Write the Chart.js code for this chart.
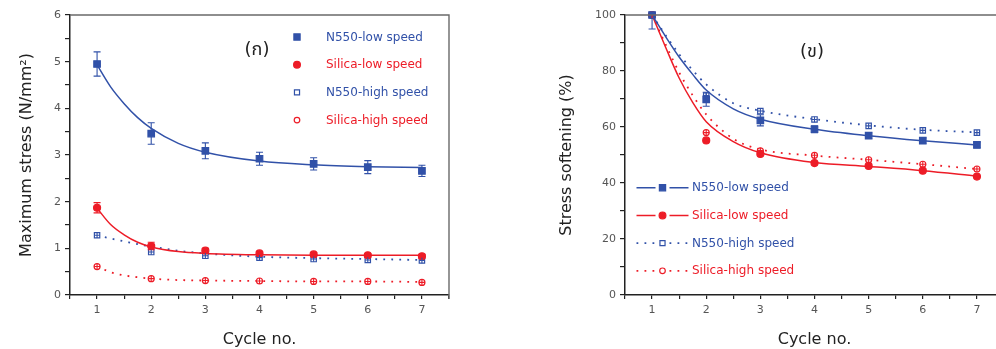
<!DOCTYPE html>
<html>
<head>
<meta charset="utf-8">
<script src="https://cdn.jsdelivr.net/npm/chart.js@4.4.1/dist/chart.umd.min.js"></script>
<style>
  html, body { margin: 0; padding: 0; background: #fff; overflow: hidden; width: 996px; height: 349px; }
  #wrapA { position: absolute; left: 0; top: 0; width: 500px; height: 349px; }
  #wrapB { position: absolute; left: 500px; top: 0; width: 520px; height: 349px; }
</style>
</head>
<body>
<div id="wrapA"><canvas id="stress"></canvas></div>
<div id="wrapB"><canvas id="soft"></canvas></div>
<script>
// ---- shared x values ----
const cycles = [1, 2, 3, 4, 5, 6, 7];
const cycleTicks = [1, 2, 3, 4, 5, 6, 7];
const fitCycles = [1, 1.25, 1.5, 1.75, 2, 2.5, 3, 4, 5, 6, 7];

// ---- panel (ก): maximum stress, N/mm² ----
const stressTicks = [0, 1, 2, 3, 4, 5, 6];
const stressN550Low = [4.95, 3.46, 3.09, 2.92, 2.81, 2.74, 2.66];
const stressN550LowErr = [0.26, 0.23, 0.17, 0.14, 0.13, 0.14, 0.12];
const stressSilicaLow = [1.87, 1.05, 0.95, 0.89, 0.87, 0.85, 0.83];
const stressSilicaLowErr = [0.11, 0.08, 0.05, 0.04, 0.04, 0.04, 0.04];
const stressN550High = [1.28, 0.92, 0.84, 0.80, 0.77, 0.75, 0.74];
const stressSilicaHigh = [0.61, 0.35, 0.31, 0.30, 0.29, 0.29, 0.27];
// fitted decay curves
const stressFitN550Low = [4.93, 4.46, 4.10, 3.80, 3.57, 3.25, 3.06, 2.87, 2.79, 2.75, 2.73];
const stressFitSilicaLow = [1.86, 1.51, 1.29, 1.13, 1.03, 0.93, 0.89, 0.86, 0.85, 0.85, 0.85];
const stressFitN550High = [1.28, 1.21, 1.15, 1.09, 1.04, 0.95, 0.89, 0.82, 0.79, 0.77, 0.75];
const stressFitSilicaHigh = [0.61, 0.49, 0.42, 0.38, 0.35, 0.32, 0.31, 0.30, 0.29, 0.29, 0.28];

// ---- panel (ข): stress softening, % ----
const softTicks = [0, 20, 40, 60, 80, 100];
const softN550Low = [100, 69.9, 62.4, 59.2, 56.9, 55.1, 53.6];
const softN550LowErr = [5, 2.5, 2, 1.2, 1, 1, 1];
const softSilicaLow = [100, 55.2, 50.4, 47.1, 46.1, 44.4, 42.3];
const softN550High = [100, 71.2, 65.7, 62.7, 60.4, 58.8, 58.0];
const softSilicaHigh = [100, 58.0, 51.5, 49.9, 48.3, 46.7, 45.0];
// fitted decay curves
const softFitN550Low = [100, 92.3, 85.0, 78.8, 73.2, 66.5, 62.8, 59.2, 56.9, 55.1, 53.6];
const softFitSilicaLow = [100, 88.5, 77.5, 68.8, 61.9, 54.8, 50.8, 47.3, 45.9, 44.4, 42.5];
const softFitN550High = [100, 92.8, 86.0, 80.3, 75.2, 68.5, 65.8, 62.8, 60.6, 59.0, 58.1];
const softFitSilicaHigh = [100, 89.5, 79.5, 71.3, 64.5, 55.8, 52.0, 49.8, 48.3, 46.7, 45.0];

const seriesNames = ['N550-low speed', 'Silica-low speed', 'N550-high speed', 'Silica-high speed'];

const FONT = "'DejaVu Sans', 'Noto Sans', sans-serif";
const BLUE = '#3151a8';
const RED = '#ed1c27';
const AXIS = '#222';
const DOTS = [1.8, 6.2];

Chart.defaults.font.family = FONT;

const pts = (xs, ys) => xs.map((x, i) => ({ x, y: ys[i] }));

// marker styles for the four series: filled square, filled circle, open square, open circle
const markStyles = [
  { style: 'rect', filled: true, color: BLUE, r: 4.6, dash: [] },
  { style: 'circle', filled: true, color: RED, r: 3.5, dash: [] },
  { style: 'rect', filled: false, color: BLUE, r: 3.8, dash: DOTS },
  { style: 'circle', filled: false, color: RED, r: 3.0, dash: DOTS }
];

function pointSet(k, ys, errs) {
  const m = markStyles[k];
  return {
    label: seriesNames[k],
    data: pts(cycles, ys),
    showLine: false,
    pointStyle: m.style,
    pointRadius: m.r,
    pointBorderWidth: 1.2,
    pointBackgroundColor: m.filled ? m.color : '#fff',
    pointBorderColor: m.color,
    borderColor: m.color,
    errors: errs || null,
    crossed: !m.filled,
    clip: false,
    order: 0
  };
}

function fitSet(k, ys) {
  const m = markStyles[k];
  return {
    label: seriesNames[k] + ' fit',
    data: pts(fitCycles, ys),
    borderColor: m.color,
    borderWidth: m.filled ? 1.5 : 1.8,
    borderDash: m.dash,
    pointRadius: 0,
    cubicInterpolationMode: 'monotone',
    fill: false,
    order: 1
  };
}

function drawMark(ctx, m, x, y, r) {
  ctx.save();
  ctx.lineWidth = 1.2;
  ctx.strokeStyle = m.color;
  ctx.fillStyle = m.filled ? m.color : '#fff';
  ctx.beginPath();
  if (m.style === 'rect') {
    const h = r * Math.SQRT1_2;
    ctx.rect(x - h, y - h, 2 * h, 2 * h);
  } else {
    ctx.arc(x, y, r, 0, Math.PI * 2);
  }
  ctx.fill();
  ctx.stroke();
  ctx.restore();
}

// error bars and inner crosses of the open markers
const errorBars = {
  id: 'errorBars',
  afterDatasetsDraw(chart) {
    const { ctx, chartArea: a, scales: { x, y } } = chart;
    ctx.save();
    ctx.beginPath();
    ctx.rect(a.left, a.top, a.right - a.left, a.bottom - a.top);
    ctx.clip();
    chart.data.datasets.forEach(ds => {
      if (!ds.errors && !ds.crossed) return;
      ctx.strokeStyle = ds.borderColor;
      ctx.lineWidth = 1.1;
      ds.data.forEach((p, i) => {
        const px = x.getPixelForValue(p.x);
        const py = y.getPixelForValue(p.y);
        ctx.beginPath();
        if (ds.errors && ds.errors[i]) {
          const y1 = y.getPixelForValue(p.y + ds.errors[i]);
          const y2 = y.getPixelForValue(p.y - ds.errors[i]);
          ctx.moveTo(px, y1); ctx.lineTo(px, y2);
          ctx.moveTo(px - 3.5, y1); ctx.lineTo(px + 3.5, y1);
          ctx.moveTo(px - 3.5, y2); ctx.lineTo(px + 3.5, y2);
        }
        if (ds.crossed) {
          const h = ds.pointStyle === 'rect' ? ds.pointRadius * Math.SQRT1_2 : ds.pointRadius;
          ctx.moveTo(px - h, py); ctx.lineTo(px + h, py);
          ctx.moveTo(px, py - h); ctx.lineTo(px, py + h);
        }
        ctx.stroke();
      });
    });
    ctx.restore();
  }
};

// frame, panel label and in-plot legend
function decor(cfg) {
  return {
    id: 'decor',
    afterDraw(chart) {
      const { ctx, chartArea: a } = chart;
      ctx.save();
      ctx.strokeStyle = '#6a6a6a';
      ctx.lineWidth = 1.4;
      ctx.beginPath();
      ctx.moveTo(a.left, a.top);
      ctx.lineTo(a.right, a.top);
      ctx.lineTo(a.right, a.bottom + 4);
      ctx.stroke();

      ctx.fillStyle = '#222';
      ctx.font = "18px 'DejaVu Sans', 'Noto Sans', 'Noto Sans Thai', sans-serif";
      ctx.textAlign = 'center';
      ctx.textBaseline = 'middle';
      ctx.fillText(cfg.panel, a.left + cfg.panelX, a.top + cfg.panelY);

      ctx.font = '12px ' + FONT;
      ctx.textAlign = 'left';
      seriesNames.forEach((name, k) => {
        const m = markStyles[k];
        const yy = a.top + cfg.legendY + k * cfg.legendDy;
        if (cfg.samples) {
          ctx.save();
          ctx.strokeStyle = m.color;
          ctx.lineWidth = m.filled ? 1.5 : 1.8;
          ctx.setLineDash(m.dash);
          ctx.beginPath();
          ctx.moveTo(a.left + cfg.markX - 26, yy); ctx.lineTo(a.left + cfg.markX - 7, yy);
          ctx.moveTo(a.left + cfg.markX + 7, yy); ctx.lineTo(a.left + cfg.markX + 26, yy);
          ctx.stroke();
          ctx.restore();
        }
        drawMark(ctx, m, a.left + cfg.markX, yy, m.filled ? (m.style === 'rect' ? 4.4 : 3.4) : (m.style === 'rect' ? 3.6 : 2.8));
        ctx.fillStyle = m.color;
        ctx.fillText(name, a.left + cfg.textX, yy + 0.5);
      });
      ctx.restore();
    }
  };
}

function xScale() {
  return {
    type: 'linear',
    min: 0.5, max: 7.5,
    ticks: {
      stepSize: 0.5, autoSkip: false, maxRotation: 0, padding: 5,
      color: '#555', font: { size: 11 },
      callback: v => cycleTicks.includes(v) ? String(v) : ''
    },
    grid: { drawOnChartArea: false, color: AXIS, tickLength: 4, lineWidth: 1.2 },
    border: { color: AXIS, width: 1.5 },
    title: { display: true, text: 'Cycle no.', color: '#222', font: { size: 16 }, padding: { top: 0, bottom: 0 } },
    afterFit: s => { s.height = 54; }
  };
}

function yScale(max, step, labels, title, width, titlePad) {
  return {
    type: 'linear',
    min: 0, max: max,
    ticks: {
      stepSize: step, autoSkip: false, padding: 4,
      color: '#555', font: { size: 11 },
      callback: v => labels.includes(v) ? String(v) : ''
    },
    grid: { drawOnChartArea: false, color: AXIS, tickLength: 5, lineWidth: 1.2 },
    border: { color: AXIS, width: 1.5 },
    title: { display: true, text: title, color: '#222', font: { size: 16 }, padding: { top: titlePad, bottom: 0 } },
    afterFit: s => { s.width = width; }
  };
}

function baseOptions(padRight, yOpts) {
  return {
    responsive: true,
    maintainAspectRatio: false,
    animation: false,
    devicePixelRatio: 1,
    layout: { padding: { left: 0, right: padRight, top: 15, bottom: 0 } },
    plugins: { legend: { display: false }, tooltip: { enabled: false } },
    scales: { x: xScale(), y: yOpts }
  };
}

new Chart(document.getElementById('stress'), {
  type: 'line',
  data: {
    datasets: [
      pointSet(0, stressN550Low, stressN550LowErr),
      pointSet(1, stressSilicaLow, stressSilicaLowErr),
      pointSet(2, stressN550High),
      pointSet(3, stressSilicaHigh),
      fitSet(0, stressFitN550Low),
      fitSet(1, stressFitSilicaLow),
      fitSet(2, stressFitN550High),
      fitSet(3, stressFitSilicaHigh)
    ]
  },
  options: baseOptions(51, yScale(6, 0.5, stressTicks, 'Maximum stress (N/mm²)', 70, 17)),
  plugins: [errorBars, decor({ panel: '(ก)', panelX: 187, panelY: 35, markX: 227, textX: 256, legendY: 22, legendDy: 27.7, samples: false })]
});

new Chart(document.getElementById('soft'), {
  type: 'line',
  data: {
    datasets: [
      pointSet(0, softN550Low, softN550LowErr),
      pointSet(1, softSilicaLow),
      pointSet(2, softN550High),
      pointSet(3, softSilicaHigh),
      fitSet(0, softFitN550Low),
      fitSet(1, softFitSilicaLow),
      fitSet(2, softFitN550High),
      fitSet(3, softFitSilicaHigh)
    ]
  },
  options: baseOptions(16, yScale(100, 10, softTicks, 'Stress softening (%)', 125, 57)),
  plugins: [errorBars, decor({ panel: '(ข)', panelX: 187, panelY: 37, markX: 37.5, textX: 67, legendY: 172.7, legendDy: 27.7, samples: true })]
});
</script>
</body>
</html>
